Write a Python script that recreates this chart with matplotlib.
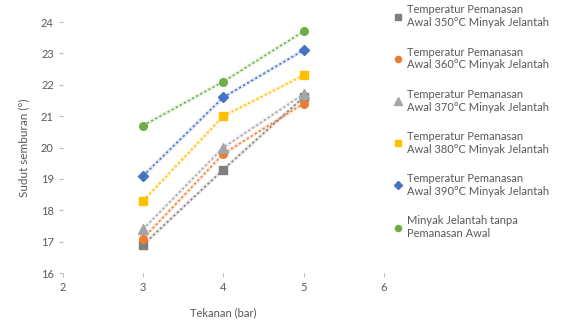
import matplotlib
matplotlib.use("Agg")
import matplotlib.pyplot as plt

pressure = [3, 4, 5]
labels = [
    "Temperatur Pemanasan\nAwal 350°C Minyak Jelantah",
    "Temperatur Pemanasan\nAwal 360°C Minyak Jelantah",
    "Temperatur Pemanasan\nAwal 370°C Minyak Jelantah",
    "Temperatur Pemanasan\nAwal 380°C Minyak Jelantah",
    "Temperatur Pemanasan\nAwal 390°C Minyak Jelantah",
    "Minyak Jelantah tanpa\nPemanasan Awal",
]
angle_350 = [16.9, 19.3, 21.6]
angle_360 = [17.1, 19.8, 21.4]
angle_370 = [17.4, 20.0, 21.7]
angle_380 = [18.3, 21.0, 22.3]
angle_390 = [19.1, 21.6, 23.1]
angle_raw = [20.7, 22.1, 23.7]
series = [angle_350, angle_360, angle_370, angle_380, angle_390, angle_raw]

colors = ["#7f7f7f", "#ed7d31", "#a5a5a5", "#ffc000", "#4472c4", "#70ad47"]
markers = ["s", "o", "^", "s", "D", "o"]
sizes = [5.5, 5.5, 6.5, 5.5, 5.5, 5.5]

plt.rcParams["font.family"] = ["Lato", "DejaVu Sans"]
fig = plt.figure(figsize=(5.66, 3.24), dpi=100)
ax = fig.add_axes([0.111, 0.157, 0.567, 0.775])

for vals, lab, c, m, s in zip(series, labels, colors, markers, sizes):
    ax.plot(pressure, vals, color=c, linewidth=2.5, alpha=0.18, zorder=1)
    ax.plot(pressure, vals, linestyle=(0, (1.2, 1.6)), linewidth=1.2, color=c,
            marker=m, markersize=s, label=lab, zorder=3)

ax.set_xlim(2, 6)
ax.set_ylim(16, 24)
ax.set_xticks([2, 3, 4, 5, 6])
ax.set_yticks(range(16, 25))
for sp in ax.spines.values():
    sp.set_visible(False)
ax.tick_params(axis="both", colors="#bfbfbf", labelcolor="#595959",
               labelsize=8, length=3)
ax.set_xlabel("Tekanan (bar)", fontsize=8, color="#595959", labelpad=10)
ax.set_ylabel("Sudut semburan (°)", fontsize=8.5, color="#595959", labelpad=8)

leg = fig.legend(loc="upper left", bbox_to_anchor=(0.688, 1.0), frameon=False,
                 fontsize=8, labelcolor="#595959", handlelength=0.7,
                 handletextpad=0.5, labelspacing=1.65, markerscale=0.8,
                 borderpad=0.2, borderaxespad=0.2)
for h in leg.legend_handles:
    h.set_linestyle("None")

fig.savefig("out.png", dpi=100)
